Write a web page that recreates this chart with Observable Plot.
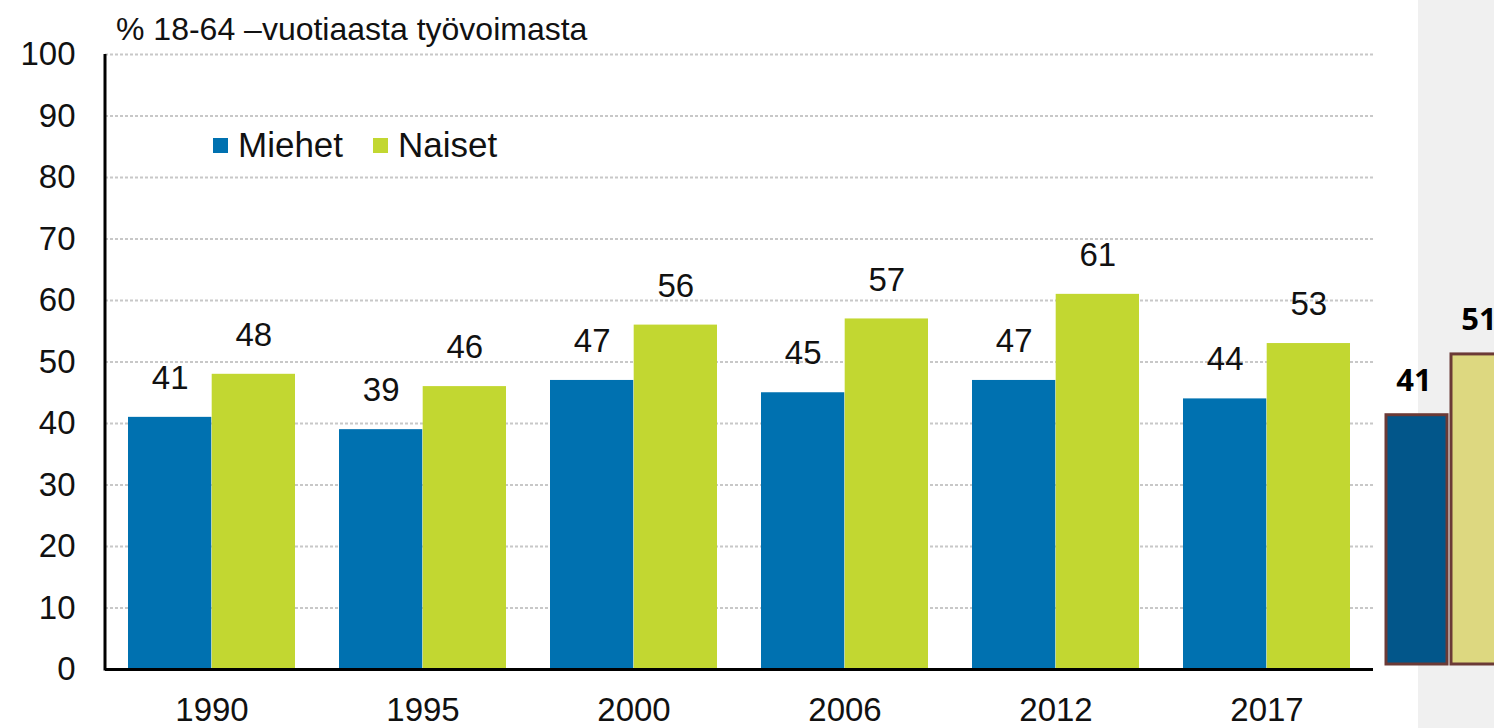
<!DOCTYPE html>
<html>
<head>
<meta charset="utf-8">
<script src="https://cdn.jsdelivr.net/npm/d3@7"></script>
<script src="https://cdn.jsdelivr.net/npm/@observablehq/plot@0.6"></script>
<style>
  html, body { margin: 0; padding: 0; background: #fff; width: 1494px; height: 728px; overflow: hidden; position: relative; }
  #panel { position: absolute; left: 1418px; top: 0; width: 76px; height: 728px; background: #f0f0f0; }
  #main { position: absolute; left: 0; top: 0; width: 1418px; }
  #inset { position: absolute; left: 1380px; top: 0; width: 140px; }
  #main svg, #inset svg { max-width: none !important; }
  #main svg text { font-size: 33px; fill: #111; }
  #inset svg text { font-family: "Open Sans", sans-serif; font-weight: 700; font-size: 31px; fill: #000; }
  #title { position: absolute; left: 116px; top: 11px; font-family: "Liberation Sans", Arial, sans-serif; font-size: 32px; color: #111; white-space: nowrap; }
  #legend { position: absolute; left: 213px; top: 125px; font-family: "Liberation Sans", Arial, sans-serif; font-size: 35px; color: #111; white-space: nowrap; display: flex; align-items: center; }
  #legend .sw { display: inline-block; width: 15px; height: 15px; margin-right: 10px; }
  #legend .item { display: inline-flex; align-items: center; margin-right: 30px; }
</style>
</head>
<body>
<div id="panel"></div>
<div id="main"></div>
<div id="inset"></div>
<div id="title">% 18-64 –vuotiaasta työvoimasta</div>
<div id="legend"></div>
<script>
// ---- data ----
const years = ["1990", "1995", "2000", "2006", "2012", "2017"];
const miehet = [41, 39, 47, 45, 47, 44];
const naiset = [48, 46, 56, 57, 61, 53];
const seriesNames = ["Miehet", "Naiset"];
const seriesColors = ["#0071b0", "#c2d731"];
const yTicks = [0, 10, 20, 30, 40, 50, 60, 70, 80, 90, 100];
const gridTicks = [10, 20, 30, 40, 50, 60, 70, 80, 90, 100];
const insetNames = ["Miehet", "Naiset"];
const insetValues = [41, 51];
const insetColors = ["#02568a", "#ddd880"];

// ---- tables ----
const rowsM = years.map((y, i) => ({year: y, series: "Miehet", value: miehet[i]}));
const rowsN = years.map((y, i) => ({year: y, series: "Naiset", value: naiset[i]}));
const insetRows = insetNames.map((s, i) => ({series: s, value: insetValues[i]}));

// ---- layout ----
const W = 1418, H = 728, mL = 105, mR = 45, mT = 54, mB = 59;
const pInner = 0.208, pOuter = 0.104;
const step = (W - mL - mR) / (years.length - pInner + 2 * pOuter);
const bw = step * (1 - pInner);
const half = bw / 2;

const main = Plot.plot({
  width: W, height: H,
  marginLeft: mL, marginRight: mR, marginTop: mT, marginBottom: mB,
  style: {fontFamily: "'Liberation Sans', Arial, sans-serif", fontSize: "33px", background: "transparent", overflow: "visible"},
  x: {domain: years, paddingInner: pInner, paddingOuter: pOuter, label: null, tickSize: 0, tickPadding: 28},
  y: {domain: [0, 100], ticks: yTicks, label: null, tickSize: 0, tickPadding: 30},
  marks: [
    Plot.ruleY(gridTicks, {stroke: "#c8c8c8", strokeWidth: 2, strokeDasharray: "3,2"}),
    Plot.barY(rowsM, {x: "year", y: "value", fill: seriesColors[0], insetRight: half}),
    Plot.barY(rowsN, {x: "year", y: "value", fill: seriesColors[1], insetLeft: half}),
    Plot.text(rowsM, {x: "year", y: "value", text: d => String(d.value), dx: -half / 2, dy: -39, fontSize: 33}),
    Plot.text(rowsN, {x: "year", y: "value", text: d => String(d.value), dx: half / 2, dy: -39, fontSize: 33}),
    Plot.ruleY([0], {stroke: "#000", strokeWidth: 3})
  ]
});
document.getElementById("main").appendChild(main);

// y axis line, through the y scale
const ys = main.scale("y");
d3.select(main).append("line")
  .attr("x1", mL).attr("x2", mL)
  .attr("y1", ys.apply(0) + 1.5).attr("y2", ys.apply(100))
  .attr("stroke", "#000").attr("stroke-width", 3);

// legend
const leg = document.getElementById("legend");
seriesNames.forEach((s, i) => {
  const it = document.createElement("span");
  it.className = "item";
  const sw = document.createElement("span");
  sw.className = "sw";
  sw.style.background = seriesColors[i];
  it.appendChild(sw);
  it.appendChild(document.createTextNode(s));
  leg.appendChild(it);
});

// inset (right side)
const inset = Plot.plot({
  width: 140, height: 728,
  marginLeft: 5, marginRight: 7, marginTop: 56, marginBottom: 64,
  style: {background: "transparent", overflow: "visible"},
  x: {domain: insetNames, paddingInner: 0.06, paddingOuter: 0, axis: null},
  y: {domain: [0, 100], axis: null},
  color: {domain: insetNames, range: insetColors},
  marks: [
    Plot.barY(insetRows, {x: "series", y: "value", fill: "series", stroke: "#6b3a36", strokeWidth: 3}),
    Plot.text(insetRows, {x: "series", y: "value", text: d => String(d.value), dy: -34, dx: -3})
  ]
});
document.getElementById("inset").appendChild(inset);
</script>
</body>
</html>
